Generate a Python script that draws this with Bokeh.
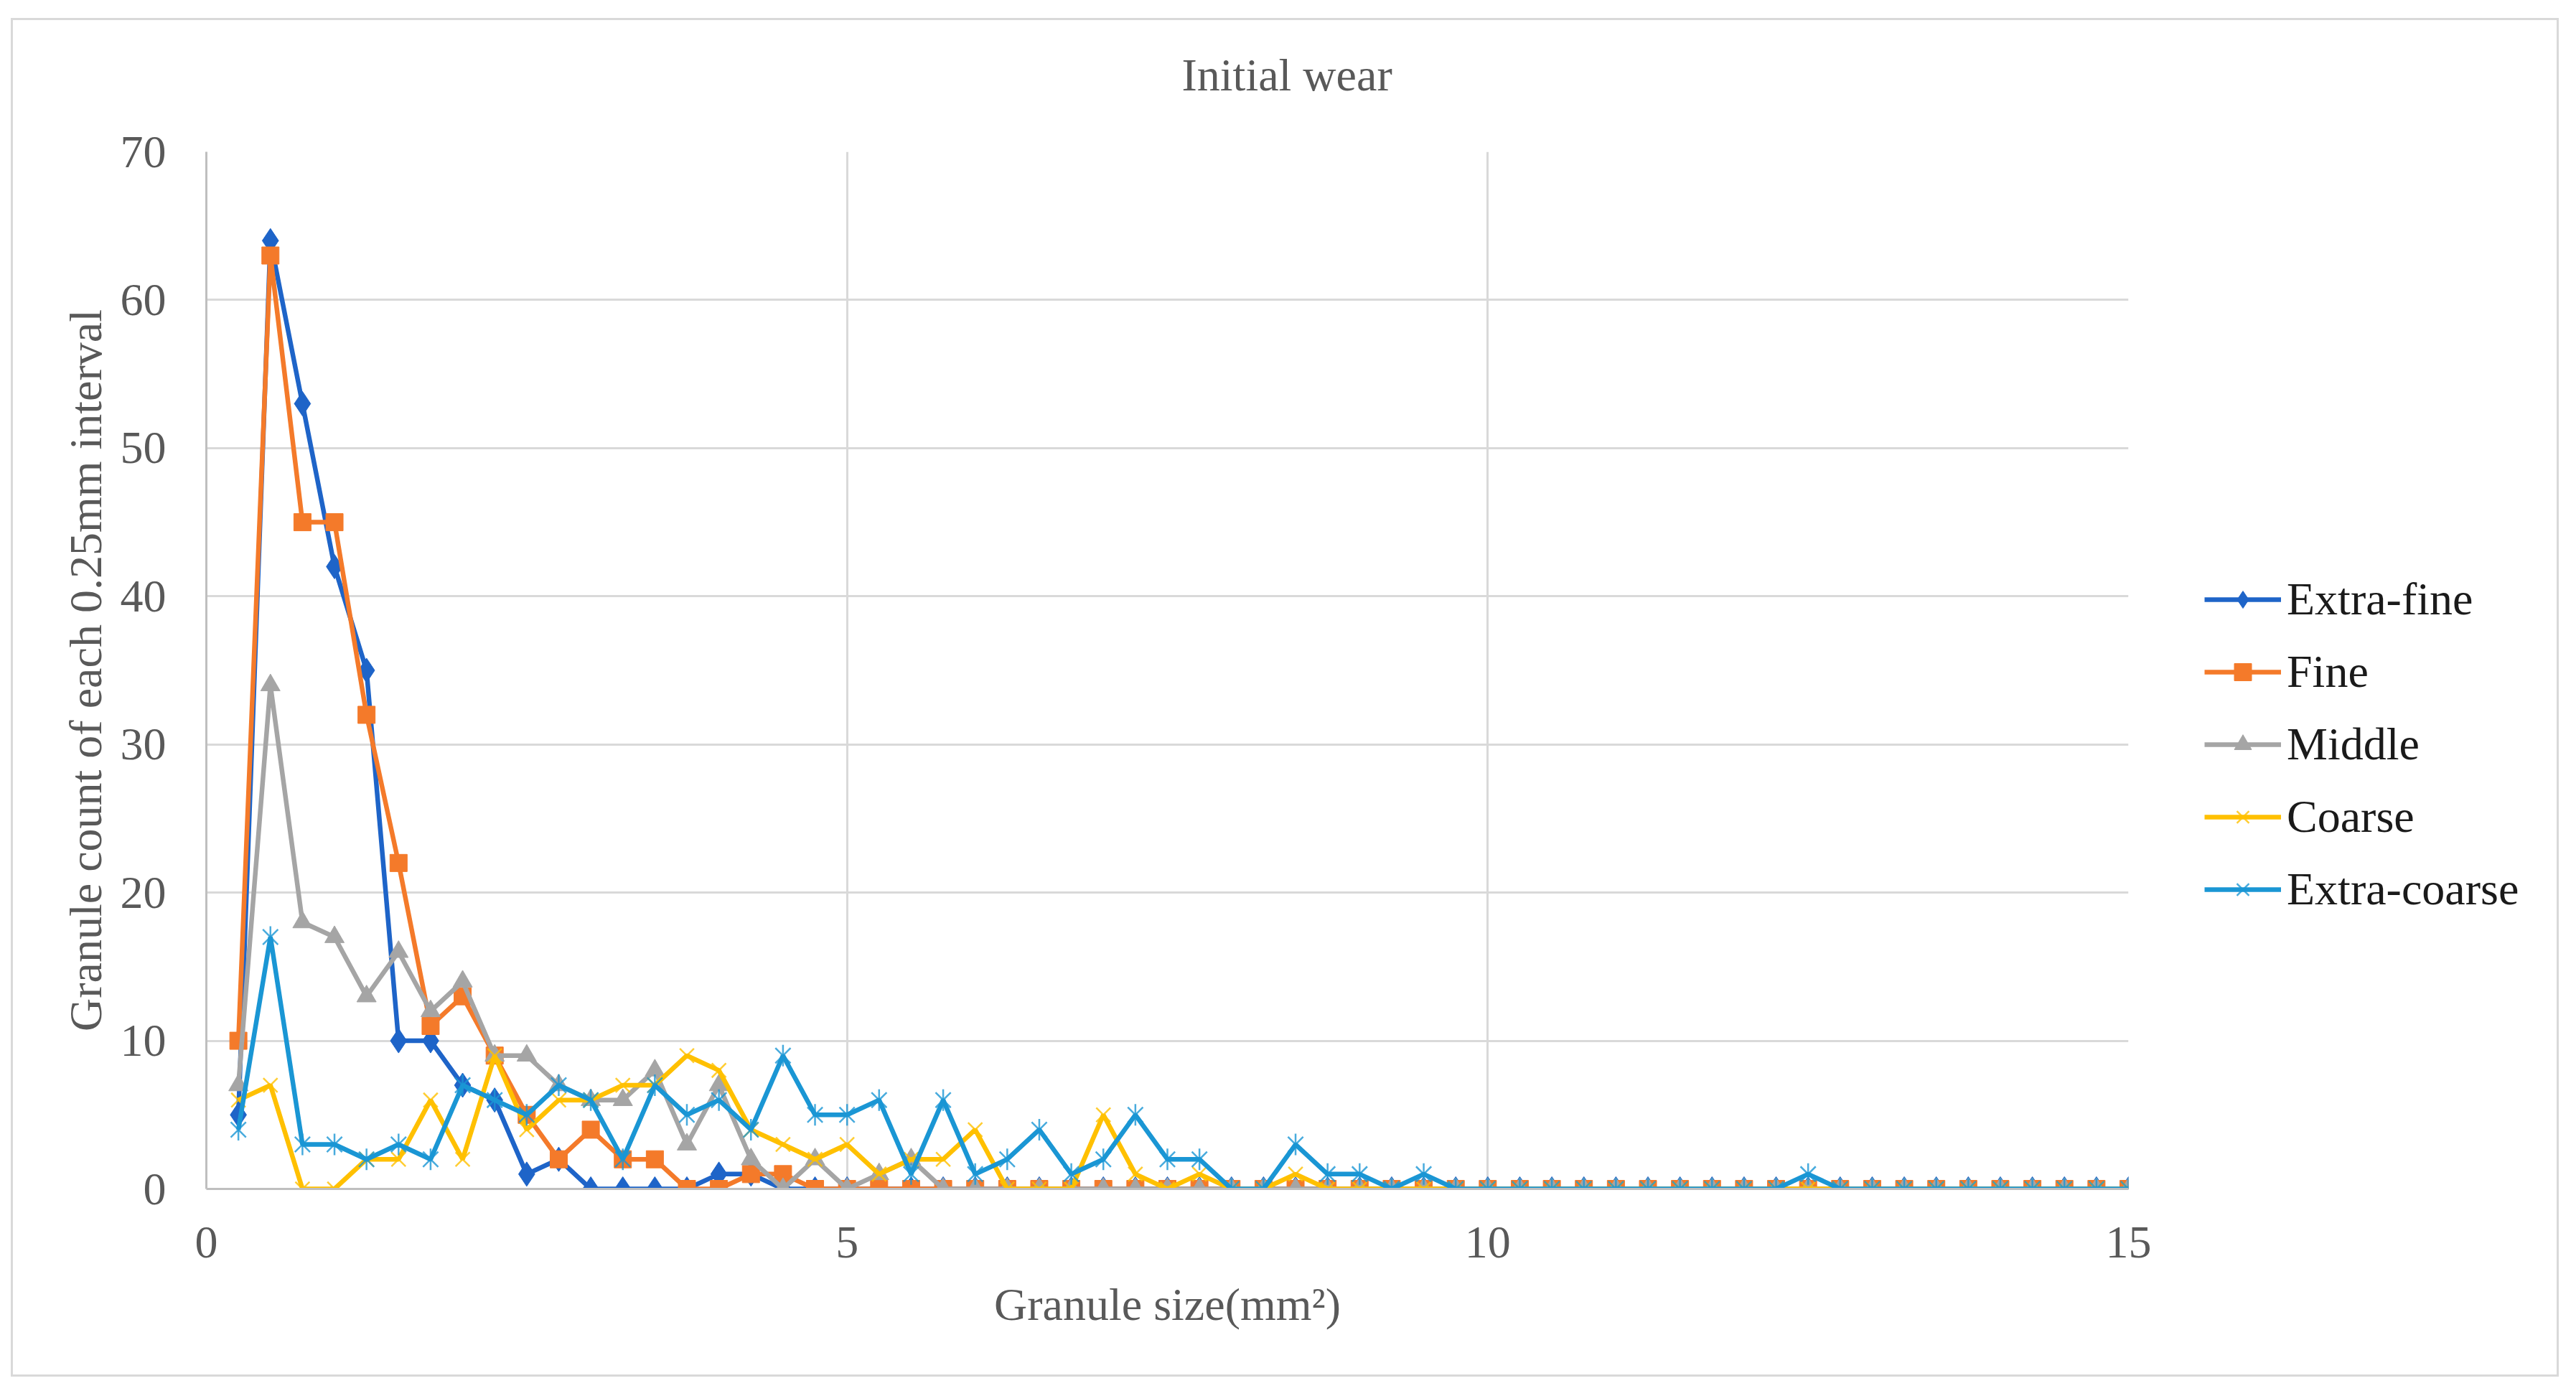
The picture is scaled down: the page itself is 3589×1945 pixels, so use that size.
import math
from bokeh.plotting import figure
from bokeh.models import Range1d, FixedTicker, Legend, LegendItem, Title
from bokeh.embed import file_html
from bokeh.resources import INLINE

# granule size classes (mm^2), every 0.25
sizes = [0.25, 0.5, 0.75, 1.0, 1.25, 1.5, 1.75, 2.0, 2.25, 2.5,
         2.75, 3.0, 3.25, 3.5, 3.75, 4.0, 4.25, 4.5, 4.75, 5.0,
         5.25, 5.5, 5.75, 6.0, 6.25, 6.5, 6.75, 7.0, 7.25, 7.5,
         7.75, 8.0, 8.25, 8.5, 8.75, 9.0, 9.25, 9.5, 9.75, 10.0,
         10.25, 10.5, 10.75, 11.0, 11.25, 11.5, 11.75, 12.0, 12.25, 12.5,
         12.75, 13.0, 13.25, 13.5, 13.75, 14.0, 14.25, 14.5, 14.75, 15.0]

extra_fine = [5, 64, 53, 42, 35, 10, 10, 7, 6, 1, 2, 0, 0, 0, 0, 1, 1, 0, 0, 0,
              0, 0, 0, 0, 0, 0, 0, 0, 0, 0, 0, 0, 0, 0, 0, 0, 0, 0, 0, 0,
              0, 0, 0, 0, 0, 0, 0, 0, 0, 0, 0, 0, 0, 0, 0, 0, 0, 0, 0, 0]
fine = [10, 63, 45, 45, 32, 22, 11, 13, 9, 5, 2, 4, 2, 2, 0, 0, 1, 1, 0, 0,
        0, 0, 0, 0, 0, 0, 0, 0, 0, 0, 0, 0, 0, 0, 0, 0, 0, 0, 0, 0,
        0, 0, 0, 0, 0, 0, 0, 0, 0, 0, 0, 0, 0, 0, 0, 0, 0, 0, 0, 0]
middle = [7, 34, 18, 17, 13, 16, 12, 14, 9, 9, 7, 6, 6, 8, 3, 7, 2, 0, 2, 0,
          1, 2, 0, 0, 0, 0, 0, 0, 0, 0, 0, 0, 0, 0, 0, 0, 0, 0, 0, 0,
          0, 0, 0, 0, 0, 0, 0, 0, 0, 0, 0, 0, 0, 0, 0, 0, 0, 0, 0, 0]
coarse = [6, 7, 0, 0, 2, 2, 6, 2, 9, 4, 6, 6, 7, 7, 9, 8, 4, 3, 2, 3,
          1, 2, 2, 4, 0, 0, 0, 5, 1, 0, 1, 0, 0, 1, 0, 0, 0, 0, 0, 0,
          0, 0, 0, 0, 0, 0, 0, 0, 0, 0, 0, 0, 0, 0, 0, 0, 0, 0, 0, 0]
extra_coarse = [4, 17, 3, 3, 2, 3, 2, 7, 6, 5, 7, 6, 2, 7, 5, 6, 4, 9, 5, 5,
                6, 1, 6, 1, 2, 4, 1, 2, 5, 2, 2, 0, 0, 3, 1, 1, 0, 1, 0, 0,
                0, 0, 0, 0, 0, 0, 0, 0, 0, 1, 0, 0, 0, 0, 0, 0, 0, 0, 0, 0]

FONT = "Liberation Serif"
GREY_TXT = "#595959"

p = figure(width=3550, height=1893,
           x_range=Range1d(0, 15), y_range=Range1d(0, 70),
           title=None,
           x_axis_label="Granule size(mm²)",
           y_axis_label="Granule count of each 0.25mm interval",
           output_backend="svg", toolbar_location=None,
           min_border_left=269, min_border_right=603,
           min_border_top=183, min_border_bottom=265)
p.margin = (25, 0, 0, 15)
p.styles = {"border": "3px solid #d9d9d9"}

# spacer first (closest to the frame), then the title above it
p.add_layout(Title(text=" ", text_font_size="1px", standoff=38), "above")
title = Title(text="Initial wear", align="left", offset=1359,
              text_font=FONT, text_font_size="64px",
              text_font_style="normal", text_color=GREY_TXT, standoff=62)
p.add_layout(title, "above")

# axes
p.xaxis.ticker = FixedTicker(ticks=[0, 5, 10, 15])
p.yaxis.ticker = FixedTicker(ticks=[0, 10, 20, 30, 40, 50, 60, 70])
for ax in (p.xaxis, p.yaxis):
    ax.major_tick_line_color = None
    ax.minor_tick_line_color = None
    ax.axis_line_color = "#bfbfbf"
    ax.axis_line_width = 3
    ax.major_label_text_font = FONT
    ax.major_label_text_font_size = "64px"
    ax.major_label_text_color = GREY_TXT
    ax.axis_label_text_font = FONT
    ax.axis_label_text_font_size = "64px"
    ax.axis_label_text_font_style = "normal"
    ax.axis_label_text_color = GREY_TXT
p.xaxis.major_label_standoff = 47
p.xaxis.axis_label_standoff = 27
p.yaxis.major_label_standoff = 50
p.yaxis.axis_label_standoff = 10

p.grid.grid_line_color = "#d9d9d9"
p.grid.grid_line_width = 3
p.outline_line_color = None

series = [
    ("Extra-fine", extra_fine, "#1E64C8", "diamond", 34),
    ("Fine", fine, "#F47A2A", "square", 24),
    ("Middle", middle, "#A5A5A5", "triangle", 27),
    ("Coarse", coarse, "#FFC000", "x", 28),
    ("Extra-coarse", extra_coarse, "#1A96D4", "x", 30),
]

items = []
for name, vals, color, marker, size in series:
    r_line = p.line(sizes, vals, line_color=color, line_width=6.5)
    rs = [r_line]
    if marker == "x":
        rs.append(p.scatter(sizes, vals, marker="x", size=size,
                            line_color=color, line_width=2.5, line_alpha=0.8))
        if name == "Extra-coarse":
            rs.append(p.scatter(sizes, vals, marker="dash", size=size,
                                angle=math.pi / 2, line_color=color,
                                line_width=2.5, line_alpha=0.8))
    else:
        rs.append(p.scatter(sizes, vals, marker=marker, size=size,
                            fill_color=color, line_color=color))
    items.append(LegendItem(label=name, renderers=rs))

# negative margin keeps the side panel within min_border_right
legend = Legend(items=items, location=(106, 380))
legend.label_text_font = FONT
legend.label_text_font_size = "64px"
legend.label_text_color = "#1a1a1a"
legend.glyph_width = 107
legend.glyph_height = 60
legend.label_height = 60
legend.label_standoff = 8
legend.spacing = 27
legend.padding = 0
legend.margin = -120
legend.border_line_color = None
legend.background_fill_alpha = 0
p.add_layout(legend, "right")

open("out.html", "w").write(file_html(p, INLINE))
